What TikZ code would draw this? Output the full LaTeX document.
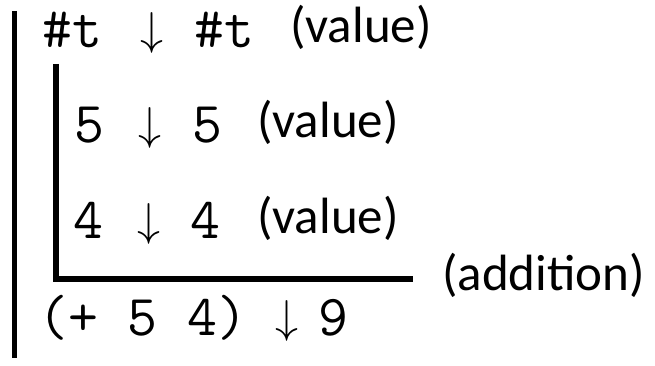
\RequirePackage{fix-cm}
\documentclass[tikz,border=0pt]{standalone}
\usepackage{fontspec}
\setmainfont{Carlito}
\begin{document}
\begin{tikzpicture}[x=1pt,y=-1pt,
  code/.style={inner sep=0pt,anchor=base west,font=\ttfamily\fontsize{58}{58}\selectfont},
  arr/.style={inner sep=0pt,anchor=base,font=\fontsize{46}{46}\selectfont},
  dig/.style={inner sep=0pt,anchor=base,font=\ttfamily\fontsize{58}{58}\selectfont},
  lab/.style={inner sep=0pt,anchor=base west,font=\fontsize{51}{51}\selectfont},
  bar/.style={line width=5pt,line cap=butt},
  ibar/.style={line width=5.5pt,line cap=butt}]
\useasboundingbox (0,0) rectangle (655,366);
% outer bar
\coordinate (otop) at (14,11);
\coordinate (obot) at (14,358);
\draw[bar] (otop) -- (obot);
% row 1
\node[code] (r1a) at (42,48) {\#t};
\node[arr] (r1b) at (152,45) {$\downarrow$};
\node[code] (r1c) at (194,48) {\#t};
\node[lab] (l1) at (290,43) {(value)};
% row 2
\node[dig] (r2a) at (89,143) {5};
\node[arr] (r2b) at (150,140) {$\downarrow$};
\node[dig] (r2c) at (207,143) {5};
\node[lab] (l2) at (257,138) {(value)};
% row 3
\node[dig] (r3a) at (88,238) {4};
\node[arr] (r3b) at (149,235) {$\downarrow$};
\node[dig] (r3c) at (205,238) {4};
\node[lab] (l3) at (257,233) {(value)};
% inner rule
\coordinate (itop) at (56,64);
\coordinate (icorner) at (56,279);
\coordinate (iend) at (413,279);
\draw[ibar] (itop) -- ([yshift=2.75pt]icorner);
\draw[ibar] ([xshift=-2.75pt]icorner) -- (iend);
\node[lab] (add) at (442,290) {(addition)};
% result
\node[code] (r4) at (38,335) {(+ 5 4)};
\node[arr] (r4a) at (287,332) {$\downarrow$};
\node[dig] (r4b) at (333,335) {9};
\end{tikzpicture}
\end{document}
